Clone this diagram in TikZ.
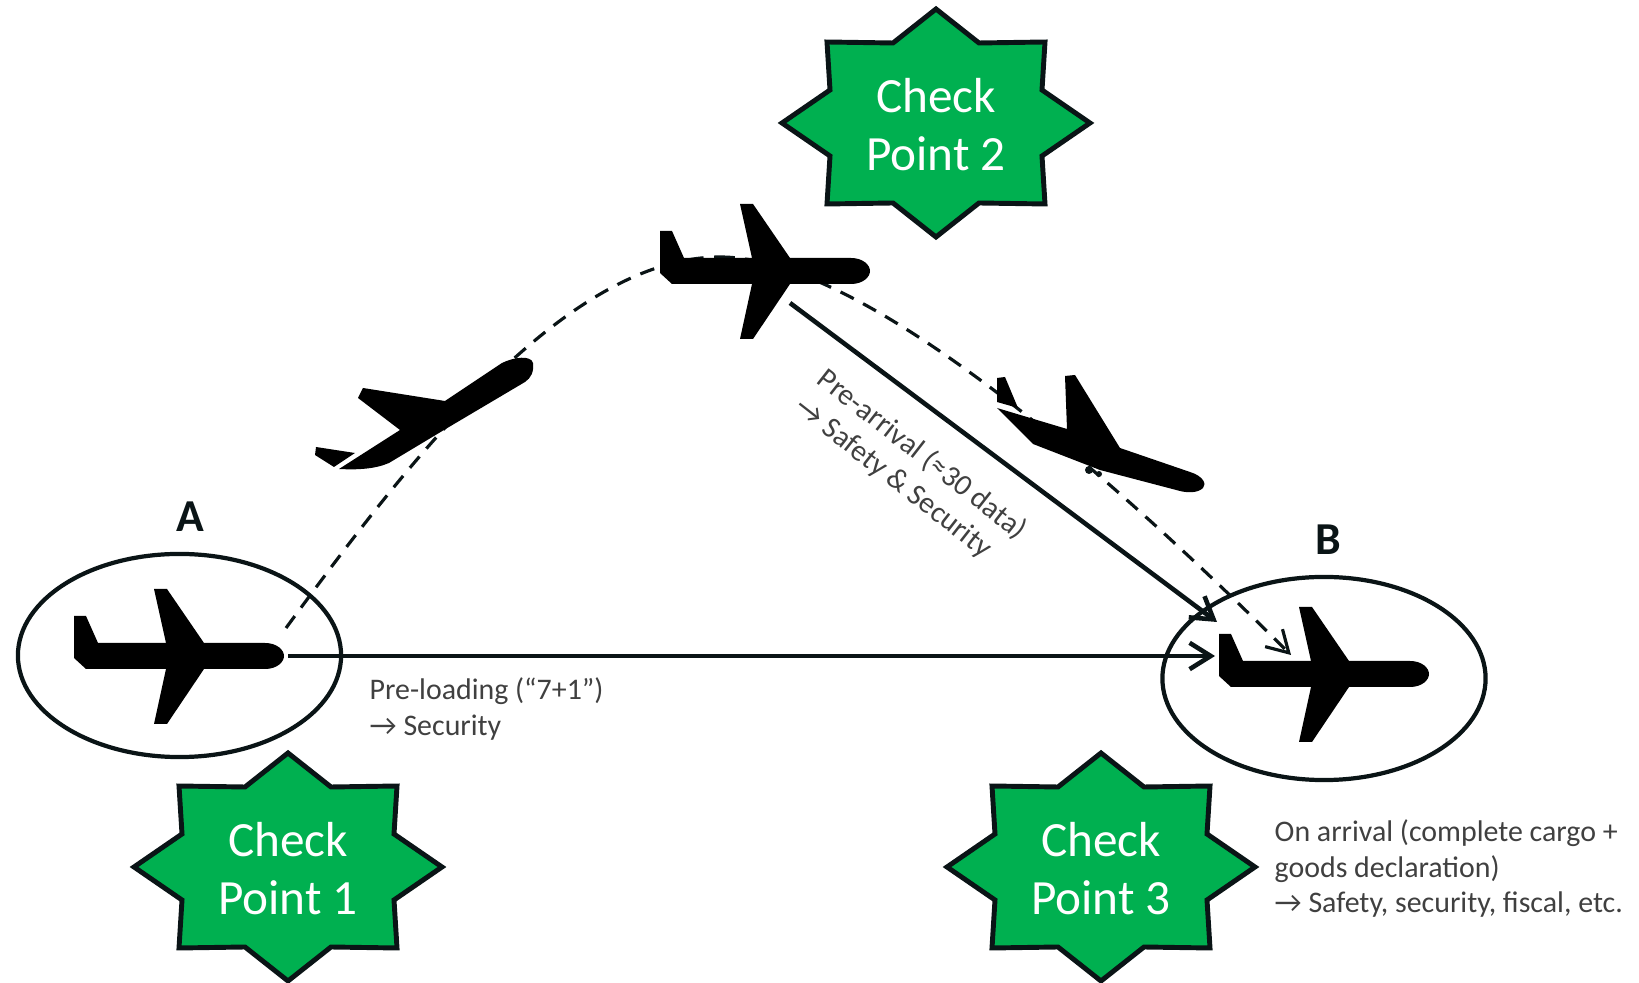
\documentclass[tikz,border=0pt]{standalone}
\usepackage{fontspec}
\setmainfont{Carlito}
\usetikzlibrary{arrows.meta,shapes.geometric}
\definecolor{inkdark}{HTML}{0A1416}
\definecolor{checkgreen}{HTML}{00B050}
\definecolor{notegray}{HTML}{404040}
\tikzset{
  checkstar/.style={draw=inkdark,fill=checkgreen,line width=1.4pt,miter limit=10},
  checktext/.style={text=white,align=center,font=\fontsize{14}{16.5}\selectfont,inner sep=0pt},
  airport/.style={draw=inkdark,ellipse,line width=1.2pt,minimum width=3.23cm,minimum height=2.03cm,inner sep=0pt},
  place/.style={font=\fontsize{13}{15}\selectfont\bfseries,text=inkdark,inner sep=0pt},
  note/.style={text=notegray,align=left,font=\fontsize{8.5}{10.2}\selectfont,inner sep=0pt},
  planebody/.style={fill=black},
  route/.style={draw=inkdark,line width=1.3pt,-{Straight Barb[length=6pt,width=7.5pt,line width=1.3pt]}},
  flight/.style={draw=inkdark,line width=0.9pt,dash pattern=on 4.2pt off 3pt},
}
\newcommand{\CheckPoint}[3]{
\draw[checkstar,shift={(#2)}] (0,-114) -- (43,-80) -- (109,-81) -- (106,-33) -- (154,0) -- (106,33)
  -- (109,81) -- (43,80) -- (0,114) -- (-43,80) -- (-109,81) -- (-106,33) -- (-154,0) -- (-106,-33)
  -- (-109,-81) -- (-43,-80) -- cycle;
\node[checktext,yshift=-0.02cm] (#1) at (#2) {#3};
}
\newcommand{\PlaneIcon}[1]{
\fill[planebody,shift={(#1)}] (-106,-40) -- (-94,-40) -- (-82,-13) -- (-14,-13) -- (-26,-67) -- (-13,-67)
  -- (24,-13) -- (85,-13) .. controls (97,-13) and (104,-6) .. (104,0) .. controls (104,6) and (97,13) .. (85,13)
  -- (24,13) -- (-13,68) -- (-26,68) -- (-14,13) -- (-94,13) -- (-106,2) -- cycle;
}
\begin{document}
\begin{tikzpicture}[x=0.01cm,y=-0.01cm]
\useasboundingbox (0,0) rectangle (1639,983);
\node[airport] (portA) at (179.5,655.5) {};
\node[airport] (portB) at (1324,678.5) {};
\node[place] (labelA) at (190,517) {A};
\node[place] (labelB) at (1328,540) {B};
\coordinate (startA) at (286,628);
\coordinate (peak) at (720,257);
\coordinate (endB) at (1291,655);
\coordinate (noseA) at (288,656);
\coordinate (tailB) at (1215,656);
\coordinate (bellyTop) at (790,303);
\coordinate (overB) at (1217,622);
% dashed flight path
\draw[flight] (startA) .. controls (395,480) and (560,257) .. (peak);
\draw[flight,-{Straight Barb[length=6pt,width=7pt,line width=0.9pt]}] (peak) .. controls (870,257) and (1130,495) .. (endB);
\PlaneIcon{180,656}
\PlaneIcon{1325,674}
\PlaneIcon{766,271}
% climbing plane
\fill[planebody] (316,447) -- (315,455) -- (334,467) -- (355,453) -- cycle;
\fill[planebody] (339,469) -- (400,430) -- (358,398) -- (363,388) -- (445,401) -- (502,363)
  .. controls (514,357) and (531,355) .. (533,363) .. controls (534,372) and (531,378) .. (525,382)
  -- (449,427) -- (389,463) .. controls (375,469) and (358,470) .. cycle;
% landing plane
\fill[planebody] (997,378) -- (1005,377) -- (1018,408) -- (997,402) -- cycle;
\fill[planebody] (997,408) -- (1067,429) -- (1065,376) -- (1075,375) -- (1120,448) -- (1190,472)
  .. controls (1203,476) and (1207,484) .. (1203,488) .. controls (1198,493) and (1188,493) .. (1180,491)
  -- (1100,470) -- (1033,444) -- cycle;
\fill[inkdark] (1089,470) circle (4) (1099,474) circle (3);
% routes
\draw[route] (noseA) -- (tailB);
\draw[route] (bellyTop) -- (overB);
\node[note,anchor=west] (noteOne) at (369,709) {Pre-loading (“7+1”)\\→ Security};
\node[note,rotate=-38] (noteTwo) at (911,469) {Pre-arrival (≈30 data)\\→ Safety \& Security};
\node[note,anchor=west] (noteThree) at (1274,868.5) {On arrival (complete cargo +\\goods declaration)\\→ Safety, security, fiscal, etc.};
\CheckPoint{checkOne}{288,867}{Check\\Point 1}
\CheckPoint{checkTwo}{936,123}{Check\\Point 2}
\CheckPoint{checkThree}{1101,867}{Check\\Point 3}
\end{tikzpicture}
\end{document}
